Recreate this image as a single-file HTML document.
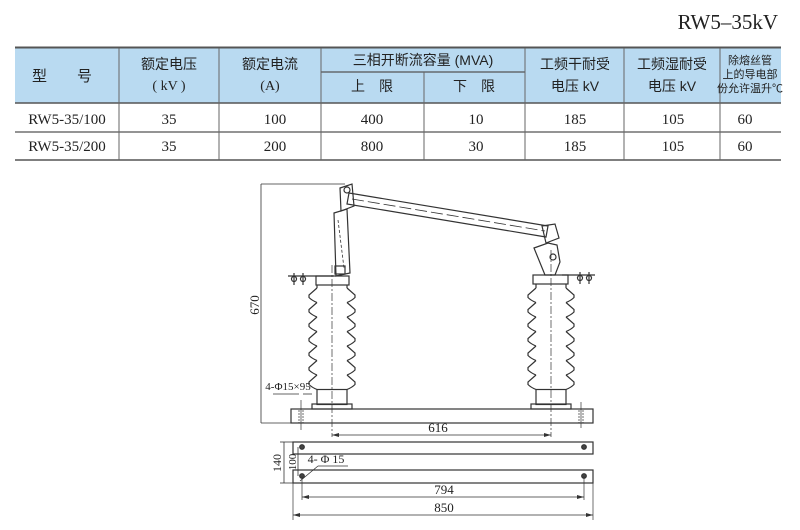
<!DOCTYPE html>
<html><head><meta charset="utf-8"><style>
body{margin:0;background:#fff;}
svg{display:block}
text{font-family:"Liberation Serif","Noto Serif CJK SC",serif;fill:#222}
.c{font-family:"Liberation Sans","Noto Sans CJK SC",sans-serif;}
</style></head><body>
<svg width="800" height="530" viewBox="0 0 800 530">
<text x="778" y="29" font-size="21" text-anchor="end">RW5–35kV</text>
<rect x="15" y="47" width="766" height="56" fill="#b9daf1"/>
<g stroke="#555" stroke-width="1.2">
<line x1="15" y1="47.5" x2="781" y2="47.5" stroke-width="2"/>
<line x1="15" y1="103" x2="781" y2="103" stroke-width="1.5"/>
<line x1="15" y1="132" x2="781" y2="132"/>
<line x1="15" y1="160" x2="781" y2="160" stroke-width="1.5"/>
<line x1="321" y1="72" x2="525" y2="72"/>
</g>
<g stroke="#666" stroke-width="1">
<line x1="119" y1="48" x2="119" y2="160"/><line x1="219" y1="48" x2="219" y2="160"/>
<line x1="321" y1="48" x2="321" y2="160"/><line x1="424" y1="72" x2="424" y2="160"/>
<line x1="525" y1="48" x2="525" y2="160"/><line x1="624" y1="48" x2="624" y2="160"/>
<line x1="720" y1="48" x2="720" y2="160"/>
</g>
<g font-size="14" text-anchor="middle" class="c">
<text class="c" x="62" y="81" font-size="15">型　　号</text>
<text class="c" x="169" y="69">额定电压</text><text x="169" y="90">( kV )</text>
<text class="c" x="270" y="69">额定电流</text><text x="270" y="90">(A)</text>
<text class="c" x="423" y="65">三相开断流容量 (MVA)</text>
<text class="c" x="372" y="91">上　限</text><text class="c" x="474" y="91">下　限</text>
<text class="c" x="575" y="69">工频干耐受</text><text class="c" x="575" y="91">电压 kV</text>
<text class="c" x="672" y="69">工频湿耐受</text><text class="c" x="672" y="91">电压 kV</text>
<text class="c" x="750" y="64" font-size="11">除熔丝管</text>
<text class="c" x="750" y="78" font-size="11">上的导电部</text>
<text class="c" x="750" y="92" font-size="11">份允许温升℃</text>
</g>
<g font-size="15" text-anchor="middle">
<text x="67" y="124">RW5-35/100</text><text x="169" y="124">35</text><text x="275" y="124">100</text><text x="372" y="124">400</text><text x="476" y="124">10</text><text x="575" y="124">185</text><text x="673" y="124">105</text><text x="745" y="124">60</text>
<text x="67" y="151">RW5-35/200</text><text x="169" y="151">35</text><text x="275" y="151">200</text><text x="372" y="151">800</text><text x="476" y="151">30</text><text x="575" y="151">185</text><text x="673" y="151">105</text><text x="745" y="151">60</text>
</g>
<defs>
<g id="shed" fill="none" stroke="#333" stroke-width="1.2">
<path d="M-15,0 L-23,7 L-23,9.5 Q-20,12.5 -15,14.5"/>
<path d="M15,0 L23,7 L23,9.5 Q20,12.5 15,14.5"/>
</g>
</defs>
<g fill="none" stroke="#333" stroke-width="1.2">
<line x1="261" y1="184" x2="345" y2="184" stroke-width="0.8"/>
<line x1="261" y1="184" x2="261" y2="423" stroke-width="0.8"/>
<line x1="261" y1="423" x2="292" y2="423" stroke-width="0.8"/>
<rect x="291" y="409" width="302" height="14"/>
<line x1="299" y1="410" x2="299" y2="423" stroke-dasharray="2,1" stroke-width="0.7"/>
<line x1="303" y1="410" x2="303" y2="423" stroke-dasharray="2,1" stroke-width="0.7"/>
<line x1="579" y1="410" x2="579" y2="423" stroke-dasharray="2,1" stroke-width="0.7"/>
<line x1="583" y1="410" x2="583" y2="423" stroke-dasharray="2,1" stroke-width="0.7"/>
<line x1="301" y1="400" x2="301" y2="430" stroke-width="0.7"/>
<line x1="581" y1="402" x2="581" y2="428" stroke-width="0.7"/>
<rect x="316" y="276" width="33" height="9"/>
<path d="M317,285 V288 M347,285 V288"/>
<rect x="317" y="389.5" width="30" height="15"/>
<rect x="312" y="404" width="40" height="5"/>
<rect x="533" y="275" width="35" height="9"/>
<path d="M536,284 V288 M566,284 V288"/>
<rect x="536" y="389.5" width="30" height="15"/>
<rect x="531" y="404" width="40" height="5"/>
</g>
<use href="#shed" x="332" y="288"/><use href="#shed" x="332" y="302.5"/><use href="#shed" x="332" y="317"/><use href="#shed" x="332" y="331.5"/><use href="#shed" x="332" y="346"/><use href="#shed" x="332" y="360.5"/><use href="#shed" x="332" y="375"/>
<use href="#shed" x="551" y="288"/><use href="#shed" x="551" y="302.5"/><use href="#shed" x="551" y="317"/><use href="#shed" x="551" y="331.5"/><use href="#shed" x="551" y="346"/><use href="#shed" x="551" y="360.5"/><use href="#shed" x="551" y="375"/>
<g fill="none" stroke="#333" stroke-width="1.2">
<line x1="332" y1="265" x2="332" y2="437" stroke-dasharray="8,2,2,2" stroke-width="0.7"/>
<line x1="551" y1="250" x2="551" y2="437" stroke-dasharray="8,2,2,2" stroke-width="0.7"/>
<line x1="288" y1="276" x2="334" y2="276"/>
<line x1="562" y1="275" x2="595" y2="275"/>
<circle cx="294" cy="279" r="2.5"/><circle cx="303" cy="279" r="2.5"/>
<circle cx="580" cy="278" r="2.5"/><circle cx="589" cy="278" r="2.5"/>
<line x1="294" y1="273" x2="294" y2="285"/><line x1="303" y1="273" x2="303" y2="285"/>
<line x1="580" y1="272" x2="580" y2="284"/><line x1="589" y1="272" x2="589" y2="284"/>
<path d="M334,213 L347,209 L350,273 L336,276 Z"/>
<line x1="338" y1="220" x2="344" y2="268" stroke-dasharray="3,2" stroke-width="0.8"/>
<rect x="335" y="266" width="10" height="8"/>
<path d="M340,188 L352,184 L354,206 L341,211 Z"/>
<circle cx="347" cy="190" r="3"/>
<path d="M349,193 L548,226 L546,237 L347,204 Z"/>
<line x1="352" y1="199" x2="545" y2="231" stroke-dasharray="12,4" stroke-width="0.8"/>
<path d="M542,226 L555,224 L559,238 L546,243 Z"/>
<path d="M534,248 L548,243 L557,245 L560,262 L555,275 L545,275 Z"/>
<circle cx="553" cy="257" r="3"/>
<line x1="332" y1="435" x2="551" y2="435" stroke-width="0.8"/>
<path d="M332,435 l7,-2 v4 z M551,435 l-7,-2 v4 z" fill="#333" stroke="none"/>
<line x1="273" y1="394" x2="299" y2="394" stroke-width="0.8"/>
<line x1="303" y1="394" x2="312" y2="394" stroke-width="0.8"/>
<rect x="293" y="442" width="300" height="12"/>
<rect x="293" y="470" width="300" height="13"/>
<circle cx="302" cy="447" r="2.3" fill="#444"/><circle cx="584" cy="447" r="2.3" fill="#444"/>
<circle cx="302" cy="476" r="2.3" fill="#444"/><circle cx="584" cy="476" r="2.3" fill="#444"/>
<line x1="284" y1="442" x2="284" y2="483" stroke-width="0.8"/>
<line x1="280" y1="442" x2="293" y2="442" stroke-width="0.8"/>
<line x1="280" y1="483" x2="293" y2="483" stroke-width="0.8"/>
<line x1="298" y1="447" x2="298" y2="476" stroke-width="0.8"/>
<line x1="300" y1="481" x2="318" y2="466" stroke-width="0.8"/>
<line x1="318" y1="466" x2="348" y2="466" stroke-width="0.8"/>
<line x1="302" y1="476" x2="302" y2="500" stroke-width="0.7"/>
<line x1="584" y1="476" x2="584" y2="500" stroke-width="0.7"/>
<line x1="293" y1="483" x2="293" y2="520" stroke-width="0.7"/>
<line x1="593" y1="483" x2="593" y2="520" stroke-width="0.7"/>
<line x1="302" y1="497" x2="584" y2="497" stroke-width="0.8"/>
<line x1="293" y1="515" x2="593" y2="515" stroke-width="0.8"/>
<path d="M302,497 l7,-2 v4 z M584,497 l-7,-2 v4 z M293,515 l7,-2 v4 z M593,515 l-7,-2 v4 z" fill="#333" stroke="none"/>
</g>
<g font-size="13" text-anchor="middle">
<text x="438" y="432">616</text>
<text x="444" y="494">794</text>
<text x="444" y="512">850</text>
<text x="288" y="390" font-size="11">4-Φ15×95</text>
<text x="326" y="463" font-size="12">4- Φ 15</text>
<text transform="translate(259,305) rotate(-90)" font-size="13">670</text>
<text transform="translate(281,463) rotate(-90)" font-size="12">140</text>
<text transform="translate(296,462) rotate(-90)" font-size="11">100</text>
</g>
</svg>
</body></html>
